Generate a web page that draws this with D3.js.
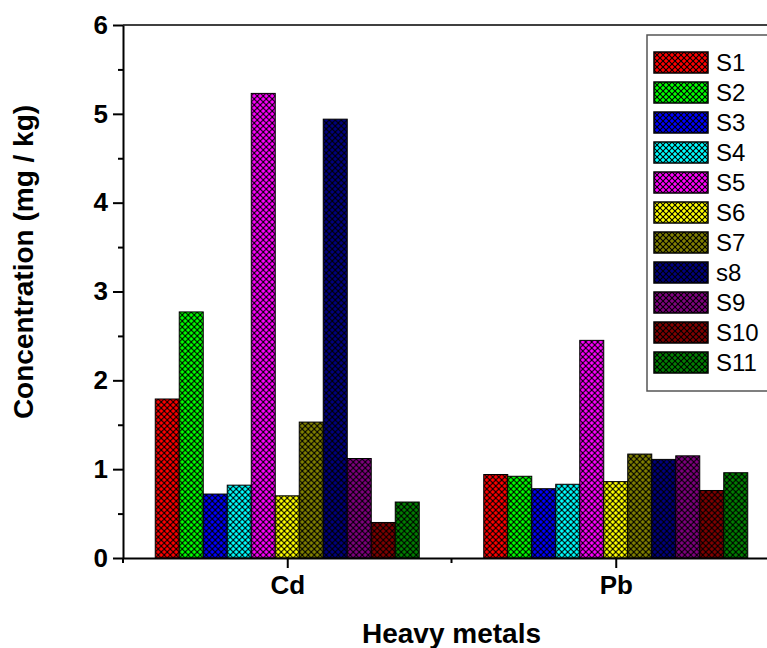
<!DOCTYPE html>
<html>
<head>
<meta charset="utf-8">
<script src="https://cdn.jsdelivr.net/npm/d3@7"></script>
<style>
  body { margin: 0; background: #fff; }
  svg { display: block; font-family: Arial, "Liberation Sans", sans-serif; }
  .tick-lbl { font-weight: bold; font-size: 26px; }
  .title { font-weight: bold; font-size: 28px; }
  .leg { font-size: 24px; }
</style>
</head>
<body>
<svg width="767" height="648"></svg>
<script>
// data
var metals = ["Cd", "Pb"];
var samples = ["S1", "S2", "S3", "S4", "S5", "S6", "S7", "s8", "S9", "S10", "S11"];
var colors = ["#ff0000", "#00ff00", "#0000ff", "#00ffff", "#ff00ff", "#ffff00",
              "#808000", "#000080", "#800080", "#800000", "#008000"];
var cdValues = [1.79, 2.77, 0.72, 0.82, 5.23, 0.70, 1.53, 4.94, 1.12, 0.40, 0.63];
var pbValues = [0.94, 0.92, 0.78, 0.83, 2.45, 0.86, 1.17, 1.11, 1.15, 0.76, 0.96];
var yTicks = [0, 1, 2, 3, 4, 5, 6];

var values = { Cd: cdValues, Pb: pbValues };

var svg = d3.select("svg");

// plot frame (px)
var pLeft = 123, pTop = 25, pBottom = 558, pRight = 780;

var x = d3.scalePoint().domain(metals).range([pLeft, pRight]).padding(0.5);
var xs = d3.scaleBand().domain(samples).range([-132, 132]);
var y = d3.scaleLinear().domain([0, 6]).range([pBottom, pTop]);

// hatch patterns
var defs = svg.append("defs");
samples.forEach(function(s, i) {
    var p = defs.append("pattern")
        .attr("id", "hatch" + i)
        .attr("patternUnits", "userSpaceOnUse")
        .attr("width", 6).attr("height", 6);
    p.append("rect").attr("width", 6).attr("height", 6).attr("fill", colors[i]);
    p.append("path")
        .attr("d", "M-1,-1L7,7M7,-1L-1,7")
        .attr("stroke", "#000")
        .attr("stroke-width", 1.1);
});

// bars
var groups = svg.selectAll(".grp")
    .data(metals)
    .enter().append("g")
    .attr("class", "grp")
    .attr("transform", function(d) { return "translate(" + x(d) + ",0)"; });

groups.selectAll("rect")
    .data(function(m) { return values[m].map(function(v, i) { return { s: samples[i], v: v, i: i }; }); })
    .enter().append("rect")
    .attr("x", function(d) { return xs(d.s); })
    .attr("width", xs.bandwidth())
    .attr("y", function(d) { return y(d.v); })
    .attr("height", function(d) { return y(0) - y(d.v); })
    .attr("fill", function(d) { return "url(#hatch" + d.i + ")"; })
    .attr("stroke", "#000")
    .attr("stroke-width", 1);

// y axis
var yAxis = svg.append("g")
    .attr("transform", "translate(" + pLeft + ",0)")
    .call(d3.axisLeft(y).tickValues(yTicks).tickFormat(d3.format("d"))
        .tickSize(10).tickSizeOuter(0).tickPadding(5));
yAxis.select(".domain").attr("stroke-width", 2);
yAxis.selectAll(".tick line").attr("stroke-width", 2);
yAxis.selectAll(".tick text").attr("class", "tick-lbl").attr("font-size", null).attr("font-family", null);

var yMinor = svg.append("g")
    .attr("transform", "translate(" + pLeft + ",0)")
    .call(d3.axisLeft(y).tickValues(d3.range(0.5, 6, 1)).tickSize(5).tickFormat(""));
yMinor.select(".domain").remove();
yMinor.selectAll(".tick line").attr("stroke-width", 2);

// x axis
var xAxis = svg.append("g")
    .attr("transform", "translate(0," + pBottom + ")")
    .call(d3.axisBottom(x).tickSize(10).tickSizeOuter(0).tickPadding(8));
xAxis.select(".domain").attr("stroke-width", 2);
xAxis.selectAll(".tick line").attr("stroke-width", 2);
xAxis.selectAll(".tick text").attr("class", "tick-lbl").attr("font-size", null).attr("font-family", null);

var mids = [pLeft, (x("Cd") + x("Pb")) / 2];
svg.append("g").selectAll("line")
    .data(mids).enter().append("line")
    .attr("x1", function(d) { return d; }).attr("x2", function(d) { return d; })
    .attr("y1", pBottom).attr("y2", pBottom + 5)
    .attr("stroke", "#000").attr("stroke-width", 2);

// top frame line
svg.append("line")
    .attr("x1", pLeft).attr("x2", pRight)
    .attr("y1", pTop).attr("y2", pTop)
    .attr("stroke", "#000").attr("stroke-width", 1.5);

// axis titles
svg.append("text")
    .attr("class", "title")
    .attr("text-anchor", "middle")
    .attr("transform", "translate(33,262) rotate(-90)")
    .text("Concentration (mg / kg)");

svg.append("text")
    .attr("class", "title")
    .attr("text-anchor", "middle")
    .attr("x", (x("Cd") + x("Pb")) / 2)
    .attr("y", 643)
    .text("Heavy metals");

// legend
var leg = svg.append("g");
leg.append("rect")
    .attr("x", 647).attr("y", 35)
    .attr("width", 140).attr("height", 356)
    .attr("fill", "#fff")
    .attr("stroke", "#555").attr("stroke-width", 1.5);

var items = leg.selectAll(".item")
    .data(samples)
    .enter().append("g")
    .attr("transform", function(d, i) { return "translate(654," + (52 + i * 30) + ")"; });
items.append("rect")
    .attr("width", 54).attr("height", 21)
    .attr("fill", function(d, i) { return "url(#hatch" + i + ")"; })
    .attr("stroke", "#000").attr("stroke-width", 1.5);
items.append("text")
    .attr("class", "leg")
    .attr("x", 62).attr("y", 19)
    .text(function(d) { return d; });
</script>
</body>
</html>
